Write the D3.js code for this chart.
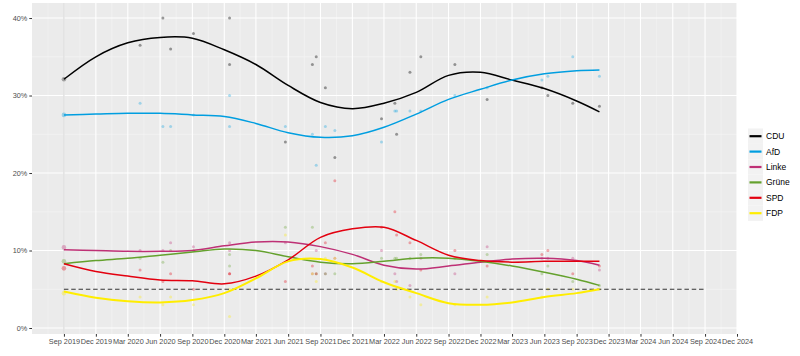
<!DOCTYPE html>
<html>
<head>
<meta charset="utf-8">
<script src="https://cdn.jsdelivr.net/npm/d3@7/dist/d3.min.js"></script>
<style>
  body { margin: 0; background: #ffffff; }
  svg { display: block; font-family: "Liberation Sans", Arial, sans-serif; }
</style>
</head>
<body>
<svg id="chart" width="800" height="356"></svg>
<script>
// ---------- data ----------
const parties = ["CDU", "AfD", "Linke", "Grüne", "SPD", "FDP"];
const partyColors = ["#000000", "#009EE0", "#BE3075", "#64A12D", "#E3000F", "#FFED00"];

const xTickLabels = ["2019-09-01","2019-12-01","2020-03-01","2020-06-01","2020-09-01","2020-12-01",
  "2021-03-01","2021-06-01","2021-09-01","2021-12-01","2022-03-01","2022-06-01","2022-09-01",
  "2022-12-01","2023-03-01","2023-06-01","2023-09-01","2023-12-01","2024-03-01","2024-06-01",
  "2024-09-01","2024-12-01"];
const yTickValues = [0, 10, 20, 30, 40];

// smoothed trend lines
const trendDates = ["2019-09-01","2019-12-01","2020-03-01","2020-06-01","2020-09-01","2020-12-01",
  "2021-03-01","2021-06-01","2021-09-01","2021-12-01","2022-03-01","2022-06-01","2022-09-01",
  "2022-12-01","2023-03-01","2023-06-01","2023-09-01","2023-11-05"];
const trendCDU   = [32.1, 35.0, 36.8, 37.5, 37.4, 35.9, 34.0, 31.3, 29.1, 28.3, 29.0, 30.4, 32.6, 33.0, 32.0, 30.9, 29.3, 27.9];
const trendAfD   = [27.5, 27.6, 27.7, 27.7, 27.5, 27.3, 26.4, 25.2, 24.6, 24.8, 25.9, 27.6, 29.5, 30.8, 32.0, 32.8, 33.2, 33.3];
const trendLinke = [10.1, 10.0, 9.9, 9.9, 10.0, 10.6, 11.1, 11.1, 10.5, 9.5, 8.1, 7.6, 8.0, 8.5, 8.9, 9.0, 8.7, 8.1];
const trendGruene= [8.3, 8.7, 9.0, 9.4, 9.8, 10.2, 10.0, 9.2, 8.5, 8.3, 8.6, 9.0, 9.0, 8.6, 8.0, 7.2, 6.3, 5.5];
const trendSPD   = [8.3, 7.3, 6.7, 6.2, 6.1, 5.7, 6.7, 8.8, 11.7, 12.8, 13.0, 11.3, 9.4, 8.7, 8.5, 8.6, 8.6, 8.6];
const trendFDP   = [4.7, 3.9, 3.45, 3.3, 3.6, 4.5, 6.4, 8.6, 8.9, 7.8, 5.9, 4.5, 3.2, 3.0, 3.3, 4.0, 4.5, 5.0];

// election result (large points)
const electionDate = "2019-09-01";
const electionValues = [32.1, 27.5, 10.4, 8.6, 7.7, 4.5];

// individual polls
const pollDates = ["2020-04-05","2020-06-09","2020-07-01","2020-09-04","2020-12-16","2020-12-16",
  "2021-05-24","2021-08-09","2021-08-20","2021-09-15","2021-10-12","2022-02-22","2022-04-01",
  "2022-04-06","2022-05-14","2022-06-14","2022-09-19","2022-12-20","2023-05-25","2023-06-11",
  "2023-08-21","2023-11-05"];
const pollCDU   = [36.5, 40, 36, 38, 40, 34, 24, 34, 35, 31, 22, 27, 29, 25, 33, 35, 34, 29.5, 31, 30, 29, 28.6];
const pollAfD   = [29, 26, 26, 27.5, 26, 30, 26, 25, 21, 26, 25.5, 24, 28, 28, 28, 28, 30, 31, 32, 32.5, 35, 32.5];
const pollLinke = [10, 10, 11, 10.5, 11, 10, 11, 7, 10, 7, 9, 10, 7, 6, 5.5, 9, 7, 10.5, 9, 9, 9, 7.5];
const pollGruene= [9, 8.5, 10, 10, 9.5, 8, 13, 13, 7, 7, 7, 9, 9, 9, 9, 9.5, 9, 9.5, 7, 8, 6, 5.5];
const pollSPD   = [7.5, 6, 7, 5, 7, 7, 6, 8, 7, 11, 19, 13, 15, 12, 11, 7.5, 10, 8, 9.5, 10, 7, 8];
const pollFDP   = [4, 3, 4, 3, 1.5, 5, 12, 7, 6, 9, 9, 6, 6, 5, 4, 3, 3, 4, 4, 5, 5, 5];

const thresholdValue = 5;
const thresholdRange = ["2019-09-01", "2024-09-01"];
const xDomain = ["2019-06-02", "2024-12-01"];

// ---------- drawing ----------
const parse = d3.utcParse("%Y-%m-%d");
const trends = [trendCDU, trendAfD, trendLinke, trendGruene, trendSPD, trendFDP];
const polls = [pollCDU, pollAfD, pollLinke, pollGruene, pollSPD, pollFDP];

const svg = d3.select("#chart");
const panel = { left: 32, right: 737, top: 3, bottom: 334 };

const x = d3.scaleUtc().domain(xDomain.map(parse)).range([panel.left, panel.right]);
const y = d3.scaleLinear().domain([-0.774, 41.94]).range([panel.bottom, panel.top]);

// panel background
svg.append("rect")
  .attr("x", panel.left).attr("y", panel.top)
  .attr("width", panel.right - panel.left).attr("height", panel.bottom - panel.top)
  .attr("fill", "#EBEBEB");

const grid = svg.append("g");
const tickDates = xTickLabels.map(parse);
// minor vertical gridlines (midpoints)
const minorX = [];
for (let i = 0; i < tickDates.length - 1; i++) {
  minorX.push(new Date((tickDates[i].getTime() + tickDates[i + 1].getTime()) / 2));
}
minorX.unshift(new Date(tickDates[0].getTime() - (tickDates[1].getTime() - tickDates[0].getTime()) / 2));
grid.selectAll(".minx").data(minorX).join("line")
  .attr("x1", d => x(d)).attr("x2", d => x(d))
  .attr("y1", panel.top).attr("y2", panel.bottom)
  .attr("stroke", "#F5F5F5").attr("stroke-width", 0.6);
grid.selectAll(".miny").data([5, 15, 25, 35]).join("line")
  .attr("x1", panel.left).attr("x2", panel.right)
  .attr("y1", d => y(d)).attr("y2", d => y(d))
  .attr("stroke", "#F5F5F5").attr("stroke-width", 0.6);
grid.selectAll(".majx").data(tickDates).join("line")
  .attr("x1", d => x(d)).attr("x2", d => x(d))
  .attr("y1", panel.top).attr("y2", panel.bottom)
  .attr("stroke", "#FFFFFF").attr("stroke-width", 1.1);
grid.selectAll(".majy").data(yTickValues).join("line")
  .attr("x1", panel.left).attr("x2", panel.right)
  .attr("y1", d => y(d)).attr("y2", d => y(d))
  .attr("stroke", "#FFFFFF").attr("stroke-width", 1.1);

// election date marker line
svg.append("line")
  .attr("x1", x(parse(electionDate))).attr("x2", x(parse(electionDate)))
  .attr("y1", panel.top).attr("y2", panel.bottom)
  .attr("stroke", "#D4D4D4").attr("stroke-width", 1);

// poll points
const pts = svg.append("g");
parties.forEach((p, i) => {
  pts.selectAll(null).data(pollDates.map((d, j) => ({ d: parse(d), v: polls[i][j] }))).join("circle")
    .attr("cx", d => x(d.d)).attr("cy", d => y(d.v)).attr("r", 1.5)
    .attr("fill", partyColors[i]).attr("fill-opacity", i === 0 ? 0.38 : 0.32);
  pts.append("circle")
    .attr("cx", x(parse(electionDate))).attr("cy", y(electionValues[i])).attr("r", 2.3)
    .attr("fill", partyColors[i]).attr("fill-opacity", i === 0 ? 0.3 : 0.35);
});

// threshold line
svg.append("line")
  .attr("x1", x(parse(thresholdRange[0]))).attr("x2", x(parse(thresholdRange[1])))
  .attr("y1", y(thresholdValue)).attr("y2", y(thresholdValue))
  .attr("stroke", "#333333").attr("stroke-width", 1.2).attr("stroke-dasharray", "4.5,2.8");

// trend lines
const line = d3.line().x(d => x(d.d)).y(d => y(d.v)).curve(d3.curveCatmullRom.alpha(0.5));
parties.forEach((p, i) => {
  svg.append("path")
    .datum(trendDates.map((d, j) => ({ d: parse(d), v: trends[i][j] })))
    .attr("d", line).attr("fill", "none")
    .attr("stroke", partyColors[i]).attr("stroke-width", i === 5 ? 2 : 1.5);
});

// axes
const fmt = d3.utcFormat("%b %Y");
const xAxis = svg.append("g").attr("transform", `translate(0,${panel.bottom})`)
  .call(d3.axisBottom(x).tickValues(tickDates).tickFormat(fmt).tickSize(2.7).tickPadding(2.5));
xAxis.select(".domain").remove();
xAxis.selectAll("line").attr("stroke", "#333333");
xAxis.selectAll("text").attr("fill", "#4D4D4D").attr("font-size", "7.3px");

const yAxis = svg.append("g").attr("transform", `translate(${panel.left},0)`)
  .call(d3.axisLeft(y).tickValues(yTickValues).tickFormat(d => d + "%").tickSize(2.7).tickPadding(2));
yAxis.select(".domain").remove();
yAxis.selectAll("line").attr("stroke", "#333333");
yAxis.selectAll("text").attr("fill", "#4D4D4D").attr("font-size", "7.3px");

// legend
const legend = svg.append("g");
const legTop = 128.5, legStep = 15.4;
parties.forEach((p, i) => {
  const cy = legTop + legStep * i + legStep / 2;
  legend.append("rect").attr("x", 748).attr("y", cy - legStep / 2)
    .attr("width", 15).attr("height", legStep).attr("fill", "#F2F2F2");
  legend.append("line").attr("x1", 749.5).attr("x2", 761.5).attr("y1", cy).attr("y2", cy)
    .attr("stroke", partyColors[i]).attr("stroke-width", 2.2);
  legend.append("text").attr("x", 766).attr("y", cy).attr("dy", "0.35em")
    .attr("font-size", "8.5px").attr("fill", "#000000").text(p);
});
</script>
</body>
</html>
